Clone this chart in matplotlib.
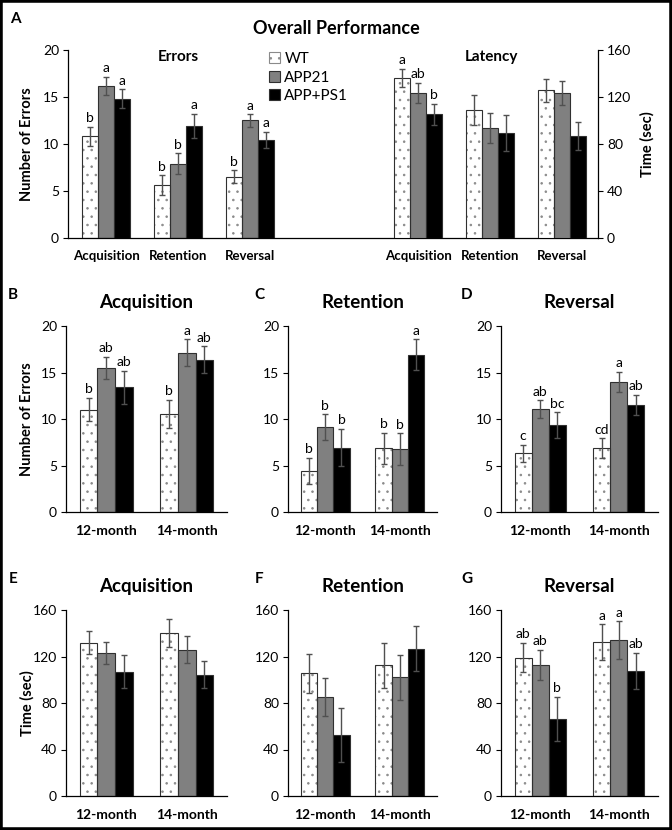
import matplotlib
matplotlib.use("Agg")
import numpy as np
from matplotlib import pyplot as plt
from matplotlib.patches import Patch, Rectangle

plt.rcParams['font.family'] = ['Lato', 'DejaVu Sans']
plt.rcParams['hatch.linewidth'] = 0.6

GROUPS = ['WT', 'APP21', 'APP+PS1']
PHASES = ['Acquisition', 'Retention', 'Reversal']
AGES = ['12-month', '14-month']

# panel A: overall errors (per group, per phase)
err_wt = [10.8, 5.6, 6.5]
err_wt_sem = [1.0, 1.05, 0.7]
err_app21 = [16.2, 7.9, 12.5]
err_app21_sem = [0.95, 1.1, 0.65]
err_ps1 = [14.8, 11.9, 10.4]
err_ps1_sem = [1.0, 1.3, 0.85]
err_letters = [['b', 'b', 'b'], ['a', 'b', 'a'], ['a', 'a', 'a']]

# panel A: overall latency (sec)
lat_wt = [136.4, 109.0, 125.6]
lat_wt_sem = [7.7, 13.0, 10.0]
lat_app21 = [123.5, 93.7, 123.3]
lat_app21_sem = [8.8, 13.0, 10.0]
lat_ps1 = [105.3, 89.6, 87.0]
lat_ps1_sem = [9.0, 15.5, 12.0]
lat_letters = [['a', '', ''], ['ab', '', ''], ['b', '', '']]

# panels B-D: errors by age
acq_err = [[11.0, 10.55], [15.45, 17.1], [13.4, 16.35]]
acq_err_sem = [[1.25, 1.5], [1.2, 1.45], [1.75, 1.45]]
acq_err_letters = [['b', 'b'], ['ab', 'a'], ['ab', 'ab']]

ret_err = [[4.45, 6.85], [9.1, 6.75], [6.9, 16.9]]
ret_err_sem = [[1.4, 1.65], [1.4, 1.7], [2.0, 1.65]]
ret_err_letters = [['b', 'b'], ['b', 'b'], ['b', 'a']]

rev_err = [[6.3, 6.85], [11.05, 14.0], [9.35, 11.5]]
rev_err_sem = [[0.93, 1.07], [0.95, 1.1], [1.35, 1.1]]
rev_err_letters = [['c', 'cd'], ['ab', 'a'], ['bc', 'ab']]

# panels E-G: latency by age
acq_lat = [[132.0, 140.5], [123.0, 126.0], [107.0, 104.5]]
acq_lat_sem = [[9.8, 12.0], [9.5, 12.0], [14.0, 11.3]]

ret_lat = [[105.5, 112.6], [85.3, 102.0], [52.6, 126.7]]
ret_lat_sem = [[16.5, 19.4], [16.2, 19.7], [23.0, 19.4]]

rev_lat = [[119.0, 132.5], [112.6, 134.2], [66.4, 107.5]]
rev_lat_sem = [[12.4, 15.2], [13.0, 16.0], [18.7, 15.7]]
rev_lat_letters = [['ab', 'a'], ['ab', 'a'], ['b', 'ab']]

FACES = ['white', '#808080', 'black']
EDGE = '#303030'
ERRC = '#505050'
W, H = 672, 830


def fig_rect(left, top, right, bottom):
    return [left / W, 1 - bottom / H, (right - left) / W, (bottom - top) / H]


def grouped_bars(ax, pos, means, sems, letters=None, width=0.22, fs=9):
    pos = np.asarray(pos, dtype=float)
    for g in range(3):
        x = pos + (g - 1) * width
        m = np.asarray(means[g])
        s = np.asarray(sems[g])
        if g == 0:
            ax.bar(x, m, width, color='white', edgecolor='#8a8a8a', hatch='..', lw=0, zorder=2)
            ax.bar(x, m, width, fill=False, edgecolor=EDGE, lw=0.8, zorder=3)
        else:
            ax.bar(x, m, width, color=FACES[g], edgecolor=EDGE, lw=0.8, zorder=2)
        ax.errorbar(x, m, yerr=s, fmt='none', ecolor=ERRC, elinewidth=1.0,
                    capsize=2.5, capthick=1.0, zorder=4)
        if letters is not None:
            for xi, top, lab in zip(x, m + s, letters[g]):
                if lab:
                    ax.annotate(lab, (xi, top), xytext=(0, 2), textcoords='offset points',
                                ha='center', va='bottom', fontsize=fs, zorder=5)


def style_axes(ax, ymax, step, labels, xfs=9.5):
    ax.set_ylim(0, ymax)
    ax.set_yticks(np.arange(0, ymax + 1, step))
    for sp in ['top', 'right']:
        ax.spines[sp].set_visible(False)
    for sp in ['left', 'bottom']:
        ax.spines[sp].set_linewidth(0.9)
    ax.tick_params(axis='y', length=3.5, width=0.8, labelsize=10, pad=3)
    ax.tick_params(axis='x', length=0, pad=9)
    ax.set_xticklabels(labels, fontweight='bold', fontsize=xfs)


fig = plt.figure(figsize=(W / 100, H / 100), dpi=100)

# ---- panel A ----
axA = fig.add_axes(fig_rect(68, 50, 598, 238))
err_pos = [0, 1, 2]
lat_pos = [4.33, 5.33, 6.33]
grouped_bars(axA, err_pos, [err_wt, err_app21, err_ps1],
             [err_wt_sem, err_app21_sem, err_ps1_sem], err_letters, fs=10)
axA.set_xlim(-0.53, 6.83)
axA.set_xticks(err_pos + lat_pos)
style_axes(axA, 20, 5, PHASES * 2, xfs=9.5)

axA2 = axA.twinx()
grouped_bars(axA2, lat_pos, [lat_wt, lat_app21, lat_ps1],
             [lat_wt_sem, lat_app21_sem, lat_ps1_sem], lat_letters, fs=10)
axA2.set_ylim(0, 160)
axA2.set_yticks(np.arange(0, 161, 40))
for sp in ['top', 'left', 'bottom']:
    axA2.spines[sp].set_visible(False)
axA2.spines['right'].set_linewidth(0.9)
axA2.tick_params(axis='y', length=3.5, width=0.8, labelsize=10, pad=3)

handles = [Patch(facecolor='white', edgecolor='#8a8a8a', hatch='..', lw=0.8),
           Patch(facecolor='#808080', edgecolor=EDGE, lw=0.8),
           Patch(facecolor='black', edgecolor=EDGE, lw=0.8)]
fig.legend(handles, GROUPS, loc='upper left', bbox_to_anchor=(269 / W, 1 - 52 / H),
           frameon=False, fontsize=11, handlelength=0.7, handleheight=0.7,
           handletextpad=0.3, labelspacing=0.3, borderpad=0, borderaxespad=0)

fig.text(336 / W, 1 - 28 / H, 'Overall Performance', ha='center', va='center',
         fontsize=13, fontweight='bold')
fig.text(178 / W, 1 - 57 / H, 'Errors', ha='center', va='center', fontsize=11, fontweight='bold')
fig.text(491 / W, 1 - 57 / H, 'Latency', ha='center', va='center', fontsize=11, fontweight='bold')
fig.text(27 / W, 1 - 144 / H, 'Number of Errors', rotation=90, ha='center', va='center',
         fontsize=10.5, fontweight='bold')
fig.text(647 / W, 1 - 144 / H, 'Time (sec)', rotation=90, ha='center', va='center',
         fontsize=10.5, fontweight='bold')

# ---- panels B-G ----
cols = [(66, 227), (288, 437), (501, 658)]
titles = ['Acquisition', 'Retention', 'Reversal']
rows = [
    dict(top=326, bottom=512, ymax=20, step=5, tags='BCD',
         data=[(acq_err, acq_err_sem, acq_err_letters),
               (ret_err, ret_err_sem, ret_err_letters),
               (rev_err, rev_err_sem, rev_err_letters)],
         ylabel='Number of Errors'),
    dict(top=610, bottom=796, ymax=160, step=40, tags='EFG',
         data=[(acq_lat, acq_lat_sem, None),
               (ret_lat, ret_lat_sem, None),
               (rev_lat, rev_lat_sem, rev_lat_letters)],
         ylabel='Time (sec)'),
]
tag_x = [13, 259, 467]

for row in rows:
    for i, (l, r) in enumerate(cols):
        ax = fig.add_axes(fig_rect(l, row['top'], r, row['bottom']))
        means, sems, letters = row['data'][i]
        grouped_bars(ax, [0, 1], means, sems, letters, width=0.218, fs=10)
        ax.set_xlim(-0.5, 1.5)
        ax.set_xticks([0, 1])
        style_axes(ax, row['ymax'], row['step'], AGES, xfs=10)
        ax.set_title(titles[i], fontsize=13.5, fontweight='bold', pad=13)
        fig.text(tag_x[i] / W, 1 - (row['top'] - 31) / H, row['tags'][i], ha='center',
                 va='center', fontsize=11, fontweight='bold')
    fig.text(27 / W, 1 - (row['top'] + row['bottom']) / 2 / H, row['ylabel'], rotation=90,
             ha='center', va='center', fontsize=10.5, fontweight='bold')

fig.text(15 / W, 1 - 19 / H, 'A', ha='center', va='center', fontsize=11, fontweight='bold')

fig.patches.append(Rectangle((0, 0), 1, 1, transform=fig.transFigure, fill=False,
                             lw=4, edgecolor='black', zorder=10))

fig.savefig('out.png', dpi=100)
